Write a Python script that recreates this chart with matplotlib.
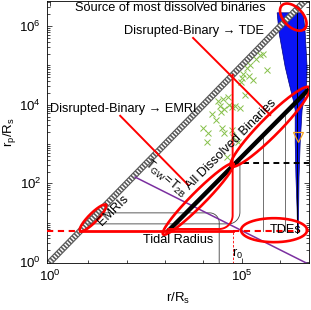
import numpy as np
import matplotlib.pyplot as plt
from matplotlib.ticker import FixedLocator, FuncFormatter, LogLocator, NullFormatter

plt.rcParams['font.family'] = ['Liberation Sans', 'DejaVu Sans']
plt.rcParams['mathtext.default'] = 'regular'
plt.rcParams['font.size'] = 9.2

# ---------------- data (log10 values) ----------------
log_r_min, log_r_max = -0.086, 6.75
log_rp_min, log_rp_max = -0.033, 6.64

log_rp_tidal = 0.79          # tidal radius
log_r0 = 4.76                # r_0
log_rp_dash = 2.52           # black dashed level

# thick black line (all dissolved binaries)
black_log_r = [3.08, 6.72]
black_log_rp = [0.79, 4.37]

# purple line  T_GW = T_2B
purple_log_r = [2.22, 6.75]
purple_log_rp = [2.16, -0.06]

# blue region (left and right edges)
blue_log_rp = [6.34, 5.83, 4.96, 4.55, 4.12, 3.87, 3.03, 2.16, 1.32, 0.74]
blue_left_log_r = [5.92, 5.97, 6.13, 6.23, 6.34, 6.39, 6.39, 6.41, 6.44, 6.45]
blue_right_log_r = [6.60, 6.65, 6.70, 6.69, 6.62, 6.57, 6.52, 6.49, 6.48, 6.47]
blue_axis_log_r = 6.44
tri_log_r, tri_log_rp = 6.47, 3.18

# green scattered binaries
green_log_r = [5.55, 5.37, 5.22, 5.14, 5.66, 5.03, 5.01, 5.19, 5.29, 4.98,
               4.64, 4.51, 4.38, 4.43, 4.67, 4.54, 4.75, 4.46, 4.95, 4.82,
               4.33, 3.99, 4.12, 4.48, 4.54, 4.75, 4.77, 4.90, 4.09, 4.62,
               5.46, 5.08, 4.22]
green_log_rp = [5.30, 5.17, 5.01, 4.94, 4.89, 4.78, 4.68, 4.73, 4.63, 4.58,
                4.20, 4.15, 4.10, 3.97, 3.99, 3.89, 3.94, 3.82, 3.92, 3.97,
                3.61, 3.41, 3.28, 3.41, 3.28, 3.36, 3.18, 3.05, 3.05, 2.67,
                5.26, 4.25, 3.77]

# thin gray curves: (start log r, horizontal log rp, vertical log r, end log rp)
gray_down = [(1.30, 1.25, 4.41, -0.10)]
gray_up = [(1.00, 0.97, 4.95, 2.60)]
gray_vert_log_r = [5.55, 6.13]

# pointer lines
ptr_tde = ([3.73, 5.74], [5.70, 3.74])
ptr_emri = ([1.83, 3.60], [3.72, 1.96])


def ellipse_log(cx, cy, a, b, ang):
    t = np.linspace(0, 2 * np.pi, 300)
    th = np.deg2rad(ang)
    x = cx + a * np.cos(t) * np.cos(th) - b * np.sin(t) * np.sin(th)
    y = cy + a * np.cos(t) * np.sin(th) + b * np.sin(t) * np.cos(th)
    return 10 ** x, 10 ** y


def corner_down(x0, yh, xv, yend, rad):
    t = np.linspace(np.pi / 2, 0, 40)
    x = np.concatenate([[x0], xv - rad + rad * np.cos(t), [xv]])
    y = np.concatenate([[yh], yh - rad + rad * np.sin(t), [yend]])
    return 10 ** x, 10 ** y


def corner_up(x0, yh, xv, ytop, rad):
    t = np.linspace(0, -np.pi / 2, 40)
    x = np.concatenate([[xv], xv - rad + rad * np.cos(t), [x0]])
    y = np.concatenate([[ytop], yh + rad + rad * np.sin(t), [yh]])
    return 10 ** x, 10 ** y


fig = plt.figure(figsize=(3.11, 3.10), dpi=100)
ax = fig.add_axes([0.150, 0.1506, 0.8436, 0.8462])
ax.set_xscale('log')
ax.set_yscale('log')

# diagonal hatched band r_p = r
diag = np.array([10 ** -0.5, 10 ** 7.5])
ax.plot(diag, diag, color='0.35', lw=4.6, solid_capstyle='butt', zorder=2)
ax.plot(diag, diag, color='white', lw=3.0, dashes=(0.35, 0.4), zorder=2.1)

# blue region
bx = np.concatenate([blue_left_log_r, blue_right_log_r[::-1]])
by = np.concatenate([blue_log_rp, blue_log_rp[::-1]])
ax.fill(10 ** bx, 10 ** by, facecolor='#0a14f5', edgecolor='#000080', lw=0.5, zorder=1.5)
ax.plot([10 ** blue_axis_log_r] * 2, [10 ** blue_log_rp[0], 10 ** blue_log_rp[-1]],
        color='black', lw=0.7, zorder=1.6)
ax.plot(10 ** tri_log_r, 10 ** tri_log_rp, 'v', ms=7, mfc='none', mec='#f0a020', mew=0.9, zorder=3)

# thin gray curves
for x0, yh, xv, ye in gray_down:
    cx, cy = corner_down(x0, yh, xv, ye, 0.25)
    ax.plot(cx, cy, color='0.25', lw=0.6, zorder=2.5)
for x0, yh, xv, yt in gray_up:
    cx, cy = corner_up(x0, yh, xv, yt, 0.3)
    ax.plot(cx, cy, color='0.25', lw=0.6, zorder=2.5)
slope = (black_log_rp[1] - black_log_rp[0]) / (black_log_r[1] - black_log_r[0])
for xv in gray_vert_log_r:
    ytop = black_log_rp[0] + (xv - black_log_r[0]) * slope
    ax.plot([10 ** xv] * 2, [10 ** ytop, 10 ** log_rp_tidal], color='0.35', lw=0.6, zorder=2.5)

# purple line
ax.plot(10 ** np.array(purple_log_r), 10 ** np.array(purple_log_rp), color='#7b2fa0', lw=1.1, zorder=3)

# green crosses
ax.plot(10 ** np.array(green_log_r), 10 ** np.array(green_log_rp), 'x', color='#86c04a',
        ms=3.8, mew=0.7, zorder=3)

# black thick line
ax.plot(10 ** np.array(black_log_r), 10 ** np.array(black_log_rp), color='black', lw=3.2, zorder=4)

# black dashed level
ax.plot([10 ** log_r0, 10 ** log_r_max], [10 ** log_rp_dash] * 2, color='black', lw=1.4,
        dashes=(3, 2.2), zorder=4)

# tidal radius
ax.plot([10 ** log_rp_tidal, 10 ** log_r0], [10 ** log_rp_tidal] * 2, color='red', lw=2.0, zorder=5)
ax.plot([10 ** log_r_min, 10 ** log_rp_tidal], [10 ** log_rp_tidal] * 2, color='red', lw=1.5,
        dashes=(3, 2.2), zorder=5)
ax.plot([10 ** log_r0, 10 ** 6.52], [10 ** log_rp_tidal] * 2, color='red', lw=1.5,
        dashes=(3, 2.2), zorder=5)

# r_0 : red vertical with rounded corner, thin dashed below
cx, cy = corner_up(black_log_r[0], 0.84, log_r0, log_r0, 0.35)
ax.plot(cx, cy, color='red', lw=1.4, zorder=5)
ax.plot([10 ** log_r0] * 2, [10 ** 0.76, 10 ** log_rp_min], color='red', lw=0.6,
        dashes=(3, 2), zorder=5)

# ellipses
for cxe, cye, a, b, ang in [(5.74, 3.44, 1.43, 0.245, 44.5),
                            (3.86, 1.60, 1.28, 0.18, 44.5),
                            (1.12, 1.12, 0.47, 0.115, 44.5),
                            (5.84, 0.81, 0.86, 0.305, 0.0),
                            (6.34, 6.23, 0.42, 0.25, -45.0)]:
    ex, ey = ellipse_log(cxe, cye, a, b, ang)
    ax.plot(ex, ey, color='red', lw=1.9, zorder=6)

# pointers
for px, py in [ptr_tde, ptr_emri]:
    ax.plot(10 ** np.array(px), 10 ** np.array(py), color='red', lw=1.4, zorder=6)

# texts
ax.text(10 ** 3.14, 10 ** 6.46, 'Source of most dissolved binaries', ha='center', va='center', zorder=7)
ax.text(10 ** 3.75, 10 ** 5.88, 'Disrupted-Binary \u2192 TDE', ha='center', va='center', zorder=7)
ax.text(10 ** 1.90, 10 ** 3.89, 'Disrupted-Binary \u2192 EMRI', ha='center', va='center', zorder=7)
ax.text(10 ** 1.64, 10 ** 1.32, 'EMRIs', rotation=45, ha='center', va='center', zorder=7)
ax.text(10 ** 3.34, 10 ** 0.56, 'Tidal Radius', ha='center', va='center', zorder=7)
ax.text(10 ** 6.13, 10 ** 0.81, 'TDEs', ha='center', va='center', zorder=7)
ax.text(10 ** 4.72, 10 ** 3.00, 'All Dissolved Binaries', rotation=45, ha='center', va='center', zorder=7)
ax.text(10 ** 3.02, 10 ** 2.12, '$T_{GW}$=$T_{2B}$', rotation=-40, ha='center', va='center', zorder=7)
ax.text(10 ** 4.90, 10 ** 0.20, '$r_0$', ha='center', va='center', zorder=7)

ax.set_xlim(10 ** log_r_min, 10 ** log_r_max)
ax.set_ylim(10 ** log_rp_min, 10 ** log_rp_max)

fmt = FuncFormatter(lambda v, p: '$10^{%d}$' % round(np.log10(v)))
ax.xaxis.set_major_locator(FixedLocator([1, 1e5]))
ax.xaxis.set_minor_locator(FixedLocator([10.0 ** k for k in range(1, 7)]))
ax.xaxis.set_major_formatter(fmt)
ax.xaxis.set_minor_formatter(NullFormatter())
ax.yaxis.set_major_locator(FixedLocator([1, 1e2, 1e4, 1e6]))
ax.yaxis.set_minor_locator(LogLocator(base=10, subs=np.arange(1, 10), numticks=30))
ax.yaxis.set_major_formatter(fmt)
ax.yaxis.set_minor_formatter(NullFormatter())
ax.tick_params(which='both', direction='in', top=True, right=True, width=0.5, labelsize=9.5)
ax.tick_params(which='major', length=3.5, pad=4)
ax.tick_params(which='minor', length=2)
for s in ax.spines.values():
    s.set_linewidth(0.6)

ax.set_xlabel('r/R$_s$', labelpad=5, fontsize=9.5)
ax.set_ylabel('r$_p$/R$_s$', labelpad=1, fontsize=9.5)

fig.savefig('out.png', dpi=100)
